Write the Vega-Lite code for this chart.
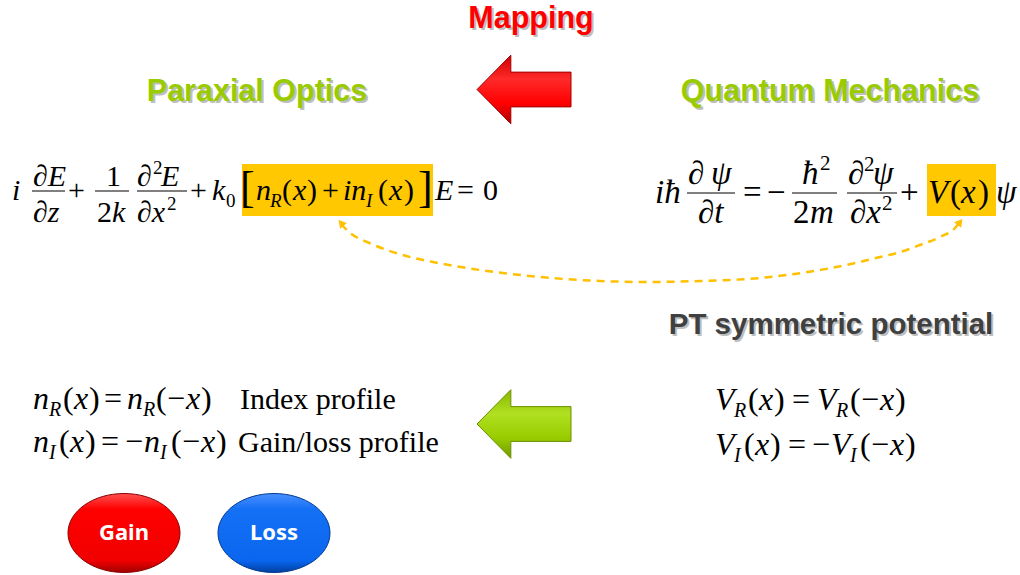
{
  "$schema": "https://vega.github.io/schema/vega-lite/v6.json",
  "width": 1020,
  "height": 575,
  "autosize": {"type": "fit", "contains": "padding"},
  "padding": 0,
  "background": "white",
  "config": {"view": {"stroke": null}},
  "datasets": {
    "boxes": [
      {"x": 242, "x2": 433, "y": 164, "y2": 216},
      {"x": 927, "x2": 996, "y": 164, "y2": 216}
    ],
    "fracs": [
      {"x": 32, "x2": 65, "y": 191},
      {"x": 95, "x2": 129, "y": 191},
      {"x": 137, "x2": 187, "y": 191},
      {"x": 687, "x2": 735, "y": 193},
      {"x": 792, "x2": 837, "y": 193},
      {"x": 847, "x2": 897, "y": 193}
    ],
    "curve": [
      {"x": 341, "y": 224}, {"x": 350, "y": 233}, {"x": 367, "y": 242}, {"x": 387, "y": 250},
      {"x": 410, "y": 257}, {"x": 433, "y": 262}, {"x": 480, "y": 270}, {"x": 540, "y": 277},
      {"x": 600, "y": 281}, {"x": 650, "y": 282}, {"x": 700, "y": 281}, {"x": 760, "y": 278},
      {"x": 820, "y": 270}, {"x": 860, "y": 262}, {"x": 880, "y": 257}, {"x": 897, "y": 253},
      {"x": 920, "y": 245}, {"x": 940, "y": 237}, {"x": 955, "y": 228}, {"x": 959, "y": 223}
    ],
    "heads": [
      {"x": 341, "y": 223, "side": "L"},
      {"x": 960, "y": 222, "side": "R"}
    ],
    "arrows": [
      {"x": 524, "y": 89.5, "c": "red"},
      {"x": 524, "y": 424, "c": "green"}
    ],
    "btns": [
      {"x": 124, "y": 533, "t": "Gain", "c": "Gain"},
      {"x": 274, "y": 533, "t": "Loss", "c": "Loss"}
    ],
    "titles": [
      {"x": 531, "y": 19, "t": "Mapping", "k": "map"},
      {"x": 257, "y": 92, "t": "Paraxial Optics", "k": "para"},
      {"x": 830, "y": 92, "t": "Quantum Mechanics", "k": "qm"}
    ],
    "subtitles": [
      {"x": 831, "y": 325, "t": "PT symmetric potential", "k": "pt"}
    ],
    "txt": [
      {"x": 12, "y": 200, "t": "i", "k": "iL"},
      {"x": 33, "y": 186, "t": "∂E", "k": "iL"},
      {"x": 33, "y": 222, "t": "∂z", "k": "iL"},
      {"x": 68, "y": 200, "t": "+", "k": "rL"},
      {"x": 106, "y": 186, "t": "1", "k": "rL"},
      {"x": 97, "y": 222, "t": "2", "k": "rL"},
      {"x": 112, "y": 222, "t": "k", "k": "iL"},
      {"x": 137, "y": 186, "t": "∂", "k": "iL"},
      {"x": 153, "y": 174, "t": "2", "k": "sL"},
      {"x": 161, "y": 186, "t": "E", "k": "iL"},
      {"x": 137, "y": 222, "t": "∂x", "k": "iL"},
      {"x": 167, "y": 210, "t": "2", "k": "sL"},
      {"x": 190, "y": 200, "t": "+", "k": "rL"},
      {"x": 212, "y": 200, "t": "k", "k": "iL"},
      {"x": 226, "y": 207, "t": "0", "k": "sL"},
      {"x": 240, "y": 202, "t": "[", "k": "bL"},
      {"x": 256, "y": 200, "t": "n", "k": "iL"},
      {"x": 270, "y": 207, "t": "R", "k": "uL"},
      {"x": 282, "y": 200, "t": "(", "k": "rL"},
      {"x": 293, "y": 200, "t": "x", "k": "iL"},
      {"x": 307, "y": 200, "t": ")", "k": "rL"},
      {"x": 322, "y": 200, "t": "+", "k": "rL"},
      {"x": 343, "y": 200, "t": "in", "k": "iL"},
      {"x": 366, "y": 207, "t": "I", "k": "uL"},
      {"x": 378, "y": 200, "t": "(", "k": "rL"},
      {"x": 389, "y": 200, "t": "x", "k": "iL"},
      {"x": 404, "y": 200, "t": ")", "k": "rL"},
      {"x": 418, "y": 202, "t": "]", "k": "bL"},
      {"x": 435, "y": 200, "t": "E", "k": "iL"},
      {"x": 457, "y": 200, "t": "=", "k": "rL"},
      {"x": 483, "y": 200, "t": "0", "k": "rL"},

      {"x": 655, "y": 203, "t": "iħ", "k": "iR"},
      {"x": 688, "y": 184, "t": "∂", "k": "iR"},
      {"x": 711, "y": 184, "t": "ψ", "k": "iR"},
      {"x": 698, "y": 223, "t": "∂t", "k": "iR"},
      {"x": 743, "y": 203, "t": "=", "k": "rR"},
      {"x": 767, "y": 203, "t": "−", "k": "rR"},
      {"x": 802, "y": 184, "t": "ħ", "k": "iR"},
      {"x": 820, "y": 170, "t": "2", "k": "sR"},
      {"x": 793, "y": 223, "t": "2", "k": "rR"},
      {"x": 810, "y": 223, "t": "m", "k": "iR"},
      {"x": 848, "y": 184, "t": "∂", "k": "iR"},
      {"x": 864, "y": 171, "t": "2", "k": "sR"},
      {"x": 873, "y": 184, "t": "ψ", "k": "iR"},
      {"x": 850, "y": 223, "t": "∂x", "k": "iR"},
      {"x": 882, "y": 210, "t": "2", "k": "sR"},
      {"x": 900, "y": 203, "t": "+", "k": "rR"},
      {"x": 928, "y": 203, "t": "V", "k": "iR"},
      {"x": 950, "y": 203, "t": "(", "k": "rR"},
      {"x": 961, "y": 203, "t": "x", "k": "iR"},
      {"x": 978, "y": 203, "t": ")", "k": "rR"},
      {"x": 996, "y": 203, "t": "ψ", "k": "iR"},

      {"x": 33, "y": 409, "t": "n", "k": "iB"},
      {"x": 49, "y": 416, "t": "R", "k": "uB"},
      {"x": 63, "y": 409, "t": "(", "k": "rB"},
      {"x": 74, "y": 409, "t": "x", "k": "iB"},
      {"x": 89, "y": 409, "t": ")", "k": "rB"},
      {"x": 104, "y": 409, "t": "=", "k": "rB"},
      {"x": 127, "y": 409, "t": "n", "k": "iB"},
      {"x": 143, "y": 416, "t": "R", "k": "uB"},
      {"x": 156, "y": 409, "t": "(", "k": "rB"},
      {"x": 167, "y": 409, "t": "−", "k": "rB"},
      {"x": 186, "y": 409, "t": "x", "k": "iB"},
      {"x": 201, "y": 409, "t": ")", "k": "rB"},
      {"x": 240, "y": 409, "t": "Index profile", "k": "wB"},

      {"x": 33, "y": 452, "t": "n", "k": "iB"},
      {"x": 49, "y": 459, "t": "I", "k": "uB"},
      {"x": 59, "y": 452, "t": "(", "k": "rB"},
      {"x": 70, "y": 452, "t": "x", "k": "iB"},
      {"x": 85, "y": 452, "t": ")", "k": "rB"},
      {"x": 101, "y": 452, "t": "=", "k": "rB"},
      {"x": 125, "y": 452, "t": "−", "k": "rB"},
      {"x": 144, "y": 452, "t": "n", "k": "iB"},
      {"x": 160, "y": 459, "t": "I", "k": "uB"},
      {"x": 171, "y": 452, "t": "(", "k": "rB"},
      {"x": 182, "y": 452, "t": "−", "k": "rB"},
      {"x": 201, "y": 452, "t": "x", "k": "iB"},
      {"x": 216, "y": 452, "t": ")", "k": "rB"},
      {"x": 238, "y": 452, "t": "Gain/loss profile", "k": "wB"},

      {"x": 715, "y": 410, "t": "V", "k": "iB"},
      {"x": 734, "y": 417, "t": "R", "k": "uB"},
      {"x": 748, "y": 410, "t": "(", "k": "rB"},
      {"x": 759, "y": 410, "t": "x", "k": "iB"},
      {"x": 774, "y": 410, "t": ")", "k": "rB"},
      {"x": 792, "y": 410, "t": "=", "k": "rB"},
      {"x": 817, "y": 410, "t": "V", "k": "iB"},
      {"x": 836, "y": 417, "t": "R", "k": "uB"},
      {"x": 850, "y": 410, "t": "(", "k": "rB"},
      {"x": 861, "y": 410, "t": "−", "k": "rB"},
      {"x": 880, "y": 410, "t": "x", "k": "iB"},
      {"x": 895, "y": 410, "t": ")", "k": "rB"},

      {"x": 715, "y": 455, "t": "V", "k": "iB"},
      {"x": 734, "y": 462, "t": "I", "k": "uB"},
      {"x": 744, "y": 455, "t": "(", "k": "rB"},
      {"x": 755, "y": 455, "t": "x", "k": "iB"},
      {"x": 770, "y": 455, "t": ")", "k": "rB"},
      {"x": 788, "y": 455, "t": "=", "k": "rB"},
      {"x": 812, "y": 455, "t": "−", "k": "rB"},
      {"x": 831, "y": 455, "t": "V", "k": "iB"},
      {"x": 850, "y": 462, "t": "I", "k": "uB"},
      {"x": 860, "y": 455, "t": "(", "k": "rB"},
      {"x": 871, "y": 455, "t": "−", "k": "rB"},
      {"x": 890, "y": 455, "t": "x", "k": "iB"},
      {"x": 905, "y": 455, "t": ")", "k": "rB"}
    ]
  },
  "encoding": {
    "x": {"field": "x", "type": "quantitative", "scale": {"domain": [0, 1020], "nice": false, "zero": false}, "axis": null},
    "y": {"field": "y", "type": "quantitative", "scale": {"domain": [0, 575], "nice": false, "zero": false, "reverse": true}, "axis": null}
  },
  "layer": [
    {"data": {"name": "boxes"}, "mark": {"type": "rect", "color": "#FFC800"}, "encoding": {"x2": {"field": "x2"}, "y2": {"field": "y2"}}},
    {"data": {"name": "fracs"}, "mark": {"type": "rule", "color": "black", "strokeWidth": 1.2}, "encoding": {"x2": {"field": "x2"}}},
    {"data": {"name": "curve"}, "mark": {"type": "line", "interpolate": "monotone", "color": "#FFC000", "strokeWidth": 2.5, "strokeDash": [8, 6]}, "encoding": {}},
    {"data": {"name": "heads"}, "transform": [{"filter": "datum.side == 'L'"}], "mark": {"type": "point", "shape": "triangle-up", "filled": true, "color": "#FFC000", "opacity": 1, "size": 80, "angle": 319}, "encoding": {}},
    {"data": {"name": "heads"}, "transform": [{"filter": "datum.side == 'R'"}], "mark": {"type": "point", "shape": "triangle-up", "filled": true, "color": "#FFC000", "opacity": 1, "size": 80, "angle": 38}, "encoding": {}},
    {"data": {"name": "arrows"}, "transform": [{"filter": "datum.c == 'red'"}],
     "mark": {"type": "point", "shape": "M-1,0L-0.28,-0.73L-0.28,-0.37L1,-0.37L1,0.37L-0.28,0.37L-0.28,0.73Z", "size": 8836, "filled": true, "opacity": 1, "stroke": "#A00000", "strokeWidth": 1,
              "fill": {"gradient": "linear", "x1": 0, "y1": 0, "x2": 0, "y2": 1, "stops": [{"offset": 0, "color": "#D00000"}, {"offset": 0.35, "color": "#FF2A2A"}, {"offset": 0.7, "color": "#FF0000"}, {"offset": 1, "color": "#B00000"}]}},
     "encoding": {}},
    {"data": {"name": "arrows"}, "transform": [{"filter": "datum.c == 'green'"}],
     "mark": {"type": "point", "shape": "M-1,0L-0.28,-0.73L-0.28,-0.37L1,-0.37L1,0.37L-0.28,0.37L-0.28,0.73Z", "size": 8836, "filled": true, "opacity": 1, "stroke": "#6A8F00", "strokeWidth": 1,
              "fill": {"gradient": "linear", "x1": 0, "y1": 0, "x2": 0, "y2": 1, "stops": [{"offset": 0, "color": "#88B800"}, {"offset": 0.35, "color": "#B0E020"}, {"offset": 0.7, "color": "#99CC00"}, {"offset": 1, "color": "#6F9A00"}]}},
     "encoding": {}},
    {"data": {"name": "btns"}, "transform": [{"filter": "datum.c == 'Gain'"}],
     "mark": {"type": "point", "shape": "M1,0C1,0.3894 0.5523,0.705 0,0.705C-0.5523,0.705 -1,0.3894 -1,0C-1,-0.3894 -0.5523,-0.705 0,-0.705C0.5523,-0.705 1,-0.3894 1,0Z", "size": 12544, "filled": true, "opacity": 1, "stroke": "#8A0000", "strokeWidth": 1,
              "fill": {"gradient": "linear", "x1": 0, "y1": 0, "x2": 0, "y2": 1, "stops": [{"offset": 0, "color": "#FF5050"}, {"offset": 0.2, "color": "#FF0000"}, {"offset": 0.85, "color": "#F00000"}, {"offset": 1, "color": "#A00000"}]}},
     "encoding": {}},
    {"data": {"name": "btns"}, "transform": [{"filter": "datum.c == 'Loss'"}],
     "mark": {"type": "point", "shape": "M1,0C1,0.3894 0.5523,0.705 0,0.705C-0.5523,0.705 -1,0.3894 -1,0C-1,-0.3894 -0.5523,-0.705 0,-0.705C0.5523,-0.705 1,-0.3894 1,0Z", "size": 12544, "filled": true, "opacity": 1, "stroke": "#003A90", "strokeWidth": 1,
              "fill": {"gradient": "linear", "x1": 0, "y1": 0, "x2": 0, "y2": 1, "stops": [{"offset": 0, "color": "#4A90FF"}, {"offset": 0.2, "color": "#1470F5"}, {"offset": 0.85, "color": "#0A66EE"}, {"offset": 1, "color": "#003FA0"}]}},
     "encoding": {}},
    {"data": {"name": "btns"}, "mark": {"type": "text", "font": "Noto Sans", "fontWeight": "bold", "fontSize": 22, "color": "white", "align": "center", "baseline": "middle"}, "encoding": {"text": {"field": "t"}}},
    {"data": {"name": "titles"}, "mark": {"type": "text", "font": "Liberation Sans", "fontWeight": "bold", "fontSize": 30.5, "color": "#000000", "opacity": 0.25, "dx": 2, "dy": 2, "align": "center", "baseline": "middle"}, "encoding": {"text": {"field": "t"}}},
    {"data": {"name": "titles"}, "mark": {"type": "text", "font": "Liberation Sans", "fontWeight": "bold", "fontSize": 30.5, "align": "center", "baseline": "middle"},
     "encoding": {"text": {"field": "t"}, "color": {"field": "k", "type": "nominal", "scale": {"domain": ["map", "para", "qm"], "range": ["#FF0000", "#99CC00", "#99CC00"]}, "legend": null}}},
    {"data": {"name": "subtitles"}, "mark": {"type": "text", "font": "Liberation Sans", "fontWeight": "bold", "fontSize": 29.5, "color": "#000000", "opacity": 0.25, "dx": 2, "dy": 2, "align": "center", "baseline": "middle"}, "encoding": {"text": {"field": "t"}}},
    {"data": {"name": "subtitles"}, "mark": {"type": "text", "font": "Liberation Sans", "fontWeight": "bold", "fontSize": 29.5, "color": "#404040", "align": "center", "baseline": "middle"}, "encoding": {"text": {"field": "t"}}},
    {"data": {"name": "txt"}, "transform": [{"filter": "datum.k == 'iL'"}], "mark": {"type": "text", "font": "Liberation Serif", "fontStyle": "italic", "fontSize": 30, "align": "left", "baseline": "alphabetic", "color": "black"}, "encoding": {"text": {"field": "t"}}},
    {"data": {"name": "txt"}, "transform": [{"filter": "datum.k == 'rL'"}], "mark": {"type": "text", "font": "Liberation Serif", "fontSize": 30, "align": "left", "baseline": "alphabetic", "color": "black"}, "encoding": {"text": {"field": "t"}}},
    {"data": {"name": "txt"}, "transform": [{"filter": "datum.k == 'sL'"}], "mark": {"type": "text", "font": "Liberation Serif", "fontSize": 19, "align": "left", "baseline": "alphabetic", "color": "black"}, "encoding": {"text": {"field": "t"}}},
    {"data": {"name": "txt"}, "transform": [{"filter": "datum.k == 'uL'"}], "mark": {"type": "text", "font": "Liberation Serif", "fontStyle": "italic", "fontSize": 19, "align": "left", "baseline": "alphabetic", "color": "black"}, "encoding": {"text": {"field": "t"}}},
    {"data": {"name": "txt"}, "transform": [{"filter": "datum.k == 'bL'"}], "mark": {"type": "text", "font": "Liberation Serif", "fontSize": 44, "align": "left", "baseline": "alphabetic", "color": "black"}, "encoding": {"text": {"field": "t"}}},
    {"data": {"name": "txt"}, "transform": [{"filter": "datum.k == 'iR'"}], "mark": {"type": "text", "font": "Liberation Serif", "fontStyle": "italic", "fontSize": 33, "align": "left", "baseline": "alphabetic", "color": "black"}, "encoding": {"text": {"field": "t"}}},
    {"data": {"name": "txt"}, "transform": [{"filter": "datum.k == 'rR'"}], "mark": {"type": "text", "font": "Liberation Serif", "fontSize": 33, "align": "left", "baseline": "alphabetic", "color": "black"}, "encoding": {"text": {"field": "t"}}},
    {"data": {"name": "txt"}, "transform": [{"filter": "datum.k == 'sR'"}], "mark": {"type": "text", "font": "Liberation Serif", "fontSize": 21, "align": "left", "baseline": "alphabetic", "color": "black"}, "encoding": {"text": {"field": "t"}}},
    {"data": {"name": "txt"}, "transform": [{"filter": "datum.k == 'iB'"}], "mark": {"type": "text", "font": "Liberation Serif", "fontStyle": "italic", "fontSize": 32, "align": "left", "baseline": "alphabetic", "color": "black"}, "encoding": {"text": {"field": "t"}}},
    {"data": {"name": "txt"}, "transform": [{"filter": "datum.k == 'rB'"}], "mark": {"type": "text", "font": "Liberation Serif", "fontSize": 32, "align": "left", "baseline": "alphabetic", "color": "black"}, "encoding": {"text": {"field": "t"}}},
    {"data": {"name": "txt"}, "transform": [{"filter": "datum.k == 'uB'"}], "mark": {"type": "text", "font": "Liberation Serif", "fontStyle": "italic", "fontSize": 20, "align": "left", "baseline": "alphabetic", "color": "black"}, "encoding": {"text": {"field": "t"}}},
    {"data": {"name": "txt"}, "transform": [{"filter": "datum.k == 'wB'"}], "mark": {"type": "text", "font": "Liberation Serif", "fontSize": 30, "align": "left", "baseline": "alphabetic", "color": "black"}, "encoding": {"text": {"field": "t"}}}
  ]
}
